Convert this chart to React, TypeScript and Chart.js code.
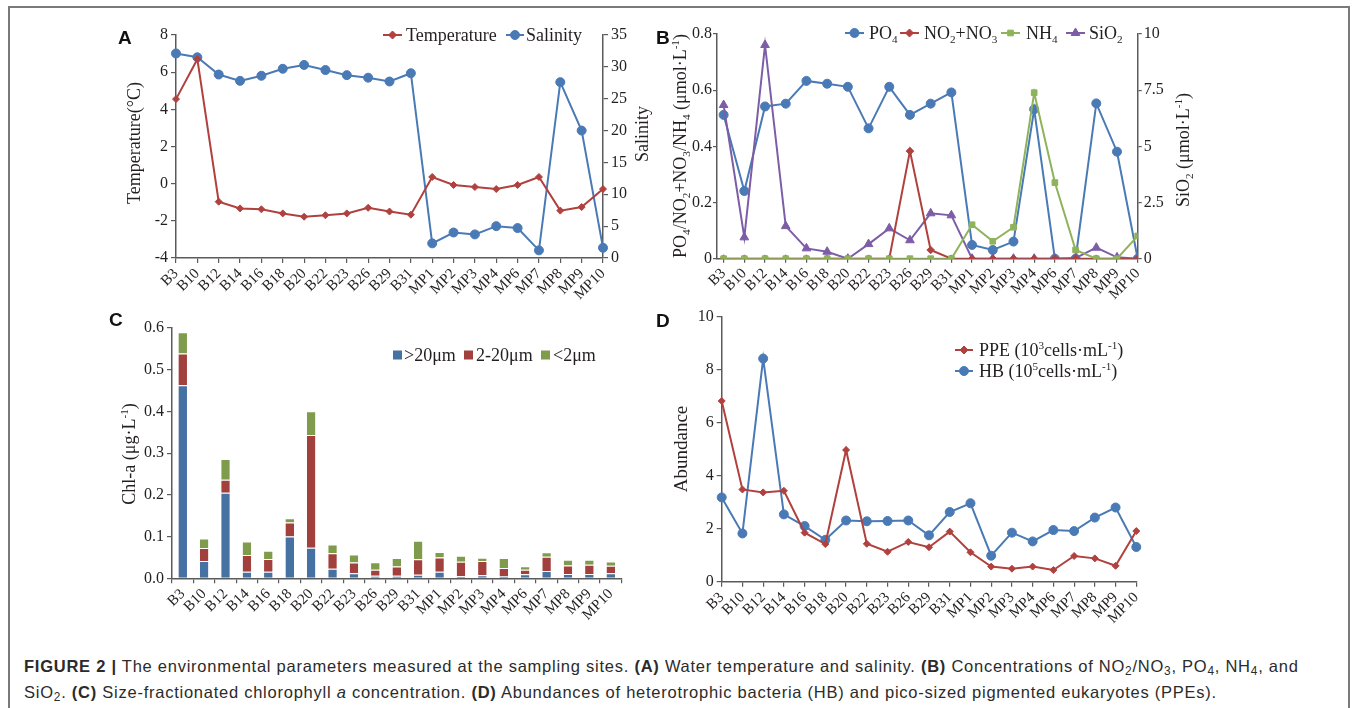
import React, { useEffect, useRef } from 'react';
import { Chart, registerables } from 'chart.js';
import { drawPoint } from 'chart.js/helpers';
Chart.register(...registerables);

// ---------------- data ----------------
const sites = ['B3', 'B10', 'B12', 'B14', 'B16', 'B18', 'B20', 'B22', 'B23', 'B26', 'B29', 'B31', 'MP1', 'MP2', 'MP3', 'MP4', 'MP6', 'MP7', 'MP8', 'MP9', 'MP10'];

const temperature = [4.55, 6.7, -0.97, -1.33, -1.38, -1.6, -1.78, -1.7, -1.6, -1.3, -1.5, -1.67, 0.36, -0.07, -0.18, -0.29, -0.07, 0.36, -1.45, -1.26, -0.29];
const salinity = [32.1, 31.5, 28.8, 27.8, 28.6, 29.7, 30.3, 29.5, 28.7, 28.3, 27.7, 29.0, 2.3, 4.0, 3.7, 5.0, 4.7, 1.2, 27.6, 20.0, 1.6];

const po4 = [0.512, 0.241, 0.542, 0.552, 0.633, 0.623, 0.612, 0.464, 0.612, 0.512, 0.552, 0.592, 0.049, 0.031, 0.061, 0.532, 0, 0, 0.553, 0.381, 0];
const no2no3 = [0, 0, 0, 0, 0, 0, 0, 0, 0, 0.383, 0.031, 0, 0, 0, 0, 0, 0, 0, 0, 0, 0];
const nh4 = [0, 0, 0, 0, 0, 0, 0, 0, 0, 0, 0, 0, 0.121, 0.062, 0.112, 0.591, 0.271, 0.031, 0, 0, 0.081];
const sio2 = [6.84, 0.95, 9.51, 1.45, 0.46, 0.31, 0, 0.65, 1.35, 0.82, 2.02, 1.93, 0, 0, 0, 0, 0, 0.03, 0.49, 0.06, 0];

const chlLarge = [0.463, 0.0415, 0.205, 0.016, 0.016, 0.1, 0.0735, 0.023, 0.012, 0.0064, 0.0064, 0.0088, 0.016, 0.0048, 0.0072, 0.0056, 0.0096, 0.0176, 0.0104, 0.0104, 0.012];
const chlMid = [0.076, 0.031, 0.031, 0.04, 0.03, 0.034, 0.27, 0.037, 0.026, 0.014, 0.022, 0.037, 0.034, 0.035, 0.034, 0.019, 0.011, 0.034, 0.02, 0.022, 0.018];
const chlSmall = [0.051, 0.023, 0.05, 0.032, 0.02, 0.01, 0.057, 0.021, 0.019, 0.018, 0.02, 0.044, 0.013, 0.014, 0.008, 0.024, 0.008, 0.011, 0.014, 0.012, 0.01];

const ppe = [6.82, 3.48, 3.37, 3.43, 1.85, 1.42, 4.97, 1.43, 1.13, 1.5, 1.3, 1.89, 1.11, 0.57, 0.49, 0.57, 0.44, 0.97, 0.88, 0.6, 1.91];
const hb = [3.18, 1.82, 8.42, 2.54, 2.1, 1.58, 2.31, 2.28, 2.29, 2.31, 1.75, 2.63, 2.96, 0.98, 1.85, 1.52, 1.95, 1.91, 2.42, 2.8, 1.31];

// ---------------- style ----------------
const SERIF = '"Liberation Serif", "Times New Roman", serif';
const SANS = '"Liberation Sans", Arial, Helvetica, sans-serif';
const TEXT = '#231f20';
const AXIS = '#5a5a5a';
const RED = '#b0413e';
const BLUE = '#4a7ab5';
const GREEN = '#8fb35a';
const PURPLE = '#7c5da6';
const BAR_BLUE = '#4671a3';
const BAR_RED = '#a2403e';
const BAR_GREEN = '#7f9c4c';

// ---------------- rich text helpers ----------------
function parseRich(s: string) {
  const parts: { t: string; k: string }[] = [];
  const re = /([_^])\{([^}]*)\}/g;
  let last = 0;
  let m: RegExpExecArray | null;
  while ((m = re.exec(s))) {
    if (m.index > last) parts.push({ t: s.slice(last, m.index), k: '' });
    parts.push({ t: m[2], k: m[1] });
    last = re.lastIndex;
  }
  if (last < s.length) parts.push({ t: s.slice(last), k: '' });
  return parts;
}

function drawRich(ctx: CanvasRenderingContext2D, s: string, x: number, y: number, size: number, align: 'left' | 'center') {
  const parts = parseRich(s);
  const fontFor = (k: string) => `${k ? size * 0.62 : size}px ${SERIF}`;
  let w = 0;
  for (const p of parts) {
    ctx.font = fontFor(p.k);
    w += ctx.measureText(p.t).width;
  }
  let cx = align === 'center' ? x - w / 2 : x;
  ctx.textAlign = 'left';
  ctx.textBaseline = 'alphabetic';
  for (const p of parts) {
    ctx.font = fontFor(p.k);
    const dy = p.k === '_' ? size * 0.2 : p.k === '^' ? -size * 0.4 : 0;
    ctx.fillText(p.t, cx, y + dy);
    cx += ctx.measureText(p.t).width;
  }
}

type Item =
  | { kind: 'title'; text: string; x: number; y: number; size: number }
  | { kind: 'line'; text: string; x: number; y: number; len: number; color: string; style: string; r: number; tx: number; size: number }
  | { kind: 'box'; text: string; x: number; y: number; s: number; color: string; tx: number; size: number };

function makeAnnot(items: Item[], ox: number, oy: number) {
  return {
    id: 'annot',
    afterDraw(chart: any) {
      const ctx: CanvasRenderingContext2D = chart.ctx;
      for (const it of items) {
        ctx.save();
        ctx.fillStyle = TEXT;
        if (it.kind === 'title') {
          ctx.translate(it.x - ox, it.y - oy);
          ctx.rotate(-Math.PI / 2);
          drawRich(ctx, it.text, 0, it.size * 0.33, it.size, 'center');
        } else if (it.kind === 'line') {
          const x = it.x - ox;
          const y = it.y - oy;
          ctx.strokeStyle = it.color;
          ctx.lineWidth = 2;
          ctx.beginPath();
          ctx.moveTo(x, y);
          ctx.lineTo(x + it.len, y);
          ctx.stroke();
          ctx.fillStyle = it.color;
          ctx.lineWidth = 1;
          drawPoint(ctx, { pointStyle: it.style as any, radius: it.r, borderWidth: 1, rotation: 0 } as any, x + it.len / 2, y);
          ctx.fillStyle = TEXT;
          drawRich(ctx, it.text, it.tx - ox, y + it.size * 0.33, it.size, 'left');
        } else if (it.kind === 'box') {
          const x = it.x - ox;
          const y = it.y - oy;
          ctx.fillStyle = it.color;
          ctx.fillRect(x, y - it.s / 2, it.s, it.s);
          ctx.fillStyle = TEXT;
          drawRich(ctx, it.text, it.tx - ox, y + it.size * 0.33, it.size, 'left');
        }
        ctx.restore();
      }
    },
  };
}

// ---------------- scale helpers ----------------
function axisStyle(tickSize: number, tickLength = 5, pad = 3) {
  return {
    grid: { drawOnChartArea: false, drawTicks: true, tickLength, color: AXIS, tickColor: AXIS, lineWidth: 1.2 },
    border: { display: true, color: AXIS, width: 1.5 },
    ticks: { font: { family: SERIF, size: tickSize }, color: TEXT, padding: pad },
  };
}

function yAxis(pos: 'left' | 'right', width: number, min: number, max: number, step: number, cb?: (v: any) => string, tickLength = 5, pad = 3) {
  const base = axisStyle(16, tickLength, pad);
  return {
    type: 'linear',
    position: pos,
    min,
    max,
    ...base,
    ticks: { ...base.ticks, stepSize: step, ...(cb ? { callback: cb } : {}) },
    afterFit(s: any) {
      s.width = width;
    },
  };
}

const X_FONT = 15;

function xCategory(height: number, offset: boolean) {
  const base = axisStyle(X_FONT, 5, 2);
  return {
    type: 'category',
    offset,
    ...base,
    grid: { ...base.grid, offset },
    ticks: { ...base.ticks, autoSkip: false, maxRotation: 45, minRotation: 45 },
    afterFit(s: any) {
      s.height = height;
    },
  };
}

function baseOptions(padding: any) {
  return {
    responsive: false,
    maintainAspectRatio: false,
    devicePixelRatio: 1,
    animation: false as const,
    layout: { padding },
    plugins: { legend: { display: false }, tooltip: { enabled: false } },
    events: [] as any[],
  };
}

function lineDs(label: string, data: any[], color: string, style: string, r: number, yAxisID: string) {
  return {
    label,
    data,
    yAxisID,
    borderColor: color,
    backgroundColor: color,
    borderWidth: 2,
    pointStyle: style,
    pointRadius: r,
    pointBorderWidth: 1,
    pointBackgroundColor: color,
    pointBorderColor: color,
    tension: 0,
  };
}

// ---------------- panel configs ----------------
const A_BOX = { left: 100, top: 15, width: 560, height: 300 };
function configA(): any {
  const ox = A_BOX.left, oy = A_BOX.top;
  const items: Item[] = [
    { kind: 'title', text: 'Temperature(°C)', x: 134, y: 143, size: 18 },
    { kind: 'title', text: 'Salinity', x: 642, y: 134, size: 18 },
    { kind: 'line', text: 'Temperature', x: 383, y: 35, len: 19, color: RED, style: 'rectRot', r: 4, tx: 406, size: 18 },
    { kind: 'line', text: 'Salinity', x: 506, y: 35, len: 18, color: BLUE, style: 'circle', r: 4.5, tx: 526, size: 18 },
  ];
  return {
    type: 'line',
    data: {
      labels: sites,
      datasets: [
        lineDs('Temperature', temperature, RED, 'rectRot', 3.5, 'y'),
        lineDs('Salinity', salinity, BLUE, 'circle', 4.5, 'y1'),
      ],
    },
    options: {
      ...baseOptions({ top: 20, left: 0, right: 0, bottom: 0 }),
      scales: {
        x: xCategory(57, false),
        y: yAxis('left', 76, -4, 8, 2),
        y1: yAxis('right', 57, 0, 35, 5),
      },
    },
    plugins: [makeAnnot(items, ox, oy)],
  };
}

const B_BOX = { left: 640, top: 15, width: 575, height: 300 };
function configB(): any {
  const ox = B_BOX.left, oy = B_BOX.top;
  const xy = (arr: number[]) => arr.map((v, i) => ({ x: i, y: v }));
  const items: Item[] = [
    { kind: 'title', text: 'PO_{4}/NO_{2}+NO_{3}/NH_{4} (μmol·L^{-1})', x: 680, y: 146, size: 18 },
    { kind: 'title', text: 'SiO_{2} (μmol·L^{-1})', x: 1183, y: 150, size: 18 },
    { kind: 'line', text: 'PO_{4}', x: 845, y: 33, len: 19, color: BLUE, style: 'circle', r: 4.5, tx: 869, size: 18 },
    { kind: 'line', text: 'NO_{2}+NO_{3}', x: 900, y: 33, len: 19, color: RED, style: 'rectRot', r: 4, tx: 924, size: 18 },
    { kind: 'line', text: 'NH_{4}', x: 1001, y: 33, len: 19, color: GREEN, style: 'rect', r: 4, tx: 1026, size: 18 },
    { kind: 'line', text: 'SiO_{2}', x: 1066, y: 33, len: 19, color: PURPLE, style: 'triangle', r: 5, tx: 1089, size: 18 },
  ];
  const xBase = axisStyle(X_FONT, 4, 2);
  return {
    type: 'line',
    data: {
      datasets: [
        lineDs('NH4', xy(nh4), GREEN, 'rect', 4, 'y'),
        lineDs('NO2+NO3', xy(no2no3), RED, 'rectRot', 3.8, 'y'),
        lineDs('SiO2', xy(sio2), PURPLE, 'triangle', 5, 'y1'),
        lineDs('PO4', xy(po4), BLUE, 'circle', 4.5, 'y'),
      ],
    },
    options: {
      ...baseOptions({ top: 19, left: 0, right: 0, bottom: 0 }),
      scales: {
        x: {
          type: 'linear',
          min: -0.32,
          max: 20,
          ...xBase,
          ticks: {
            ...xBase.ticks,
            stepSize: 1,
            includeBounds: false,
            autoSkip: false,
            maxTicksLimit: 40,
            maxRotation: 45,
            minRotation: 45,
            callback: (v: any) => (Number.isInteger(v) && sites[v] ? sites[v] : ''),
          },
          afterFit(s: any) {
            s.height = 56.3;
          },
        },
        y: yAxis('left', 77, 0, 0.8, 0.2, undefined, 4, 1),
        y1: yAxis('right', 77.3, 0, 10, 2.5, undefined, 4, 2),
      },
    },
    plugins: [makeAnnot(items, ox, oy)],
  };
}

const C_BOX = { left: 100, top: 310, width: 540, height: 330 };
function configC(): any {
  const ox = C_BOX.left, oy = C_BOX.top;
  const items: Item[] = [
    { kind: 'title', text: 'Chl-a (μg·L^{-1})', x: 129, y: 454, size: 18 },
    { kind: 'box', text: '>20μm', x: 393, y: 355, s: 9, color: BAR_BLUE, tx: 404, size: 18 },
    { kind: 'box', text: '2-20μm', x: 464, y: 355, s: 9, color: BAR_RED, tx: 476, size: 18 },
    { kind: 'box', text: '<2μm', x: 541, y: 355, s: 9, color: BAR_GREEN, tx: 553, size: 18 },
  ];
  const bar = (label: string, data: number[], color: string) => ({
    label,
    data,
    backgroundColor: color,
    borderColor: '#ffffff',
    borderWidth: { top: 1, left: 0, right: 0, bottom: 0 },
    borderSkipped: false,
    barPercentage: 0.4,
    categoryPercentage: 1,
  });
  return {
    type: 'bar',
    data: {
      labels: sites,
      datasets: [bar('>20μm', chlLarge, BAR_BLUE), bar('2-20μm', chlMid, BAR_RED), bar('<2μm', chlSmall, BAR_GREEN)],
    },
    options: {
      ...baseOptions({ top: 18, left: 0, right: 18.5, bottom: 0 }),
      scales: {
        x: { ...xCategory(61.7, true), stacked: true },
        y: { ...yAxis('left', 72, 0, 0.6, 0.1, (v: any) => Number(v).toFixed(1)), stacked: true },
      },
    },
    plugins: [makeAnnot(items, ox, oy)],
  };
}

const D_BOX = { left: 640, top: 300, width: 575, height: 340 };
function configD(): any {
  const ox = D_BOX.left, oy = D_BOX.top;
  const items: Item[] = [
    { kind: 'title', text: 'Abundance', x: 681, y: 449, size: 19 },
    { kind: 'line', text: 'PPE (10^{3}cells·mL^{-1})', x: 955, y: 350, len: 18, color: RED, style: 'rectRot', r: 4, tx: 979, size: 18 },
    { kind: 'line', text: 'HB (10^{5}cells·mL^{-1})', x: 955, y: 371, len: 18, color: BLUE, style: 'circle', r: 4.5, tx: 979, size: 18 },
  ];
  return {
    type: 'line',
    data: {
      labels: sites,
      datasets: [
        lineDs('PPE', ppe, RED, 'rectRot', 3.5, 'y'),
        lineDs('HB', hb, BLUE, 'circle', 4.5, 'y'),
      ],
    },
    options: {
      ...baseOptions({ top: 16.7, left: 0, right: 78.7, bottom: 0 }),
      scales: {
        x: xCategory(58.3, false),
        y: yAxis('left', 81.7, 0, 10, 2),
      },
    },
    plugins: [makeAnnot(items, ox, oy)],
  };
}

// ---------------- components ----------------
function Panel({ box, make }: { box: { left: number; top: number; width: number; height: number }; make: () => any }) {
  const ref = useRef<HTMLCanvasElement>(null);
  useEffect(() => {
    const chart = new Chart(ref.current as HTMLCanvasElement, make());
    return () => chart.destroy();
  }, []);
  return (
    <canvas
      ref={ref}
      width={box.width}
      height={box.height}
      style={{ position: 'absolute', left: box.left, top: box.top, width: box.width, height: box.height }}
    />
  );
}

const letterStyle = (left: number, top: number): React.CSSProperties => ({
  position: 'absolute',
  left,
  top,
  font: `bold 19px ${SANS}`,
  lineHeight: '19px',
  color: '#111',
  margin: 0,
});

const subStyle: React.CSSProperties = { fontSize: '0.72em', verticalAlign: '-0.25em', lineHeight: 0 };

export default function App() {
  return (
    <div style={{ position: 'absolute', left: 0, top: 0, width: 1357, height: 708, overflow: 'hidden', background: '#fff' }}>
      <div
        style={{
          position: 'absolute',
          left: 8,
          top: 6,
          width: 1338,
          height: 720,
          border: '2px solid #7a7a7a',
          boxSizing: 'content-box',
        }}
      />
      <Panel box={A_BOX} make={configA} />
      <Panel box={B_BOX} make={configB} />
      <Panel box={C_BOX} make={configC} />
      <Panel box={D_BOX} make={configD} />
      <div style={letterStyle(118, 28)}>A</div>
      <div style={letterStyle(656, 28)}>B</div>
      <div style={letterStyle(109, 310)}>C</div>
      <div style={letterStyle(656, 311)}>D</div>
      <div
        style={{
          position: 'absolute',
          left: 24,
          top: 653,
          width: 1320,
          font: `16.5px ${SANS}`,
          letterSpacing: '0.75px',
          lineHeight: '26px',
          color: '#2b2b2b',
          whiteSpace: 'nowrap',
        }}
      >
        <b>FIGURE 2 |</b> The environmental parameters measured at the sampling sites. <b>(A)</b> Water temperature and salinity.{' '}
        <b>(B)</b> Concentrations of NO<sub style={subStyle}>2</sub>/NO<sub style={subStyle}>3</sub>, PO<sub style={subStyle}>4</sub>, NH
        <sub style={subStyle}>4</sub>, and
        <br />
        SiO<sub style={subStyle}>2</sub>. <b>(C)</b> Size-fractionated chlorophyll <i>a</i> concentration. <b>(D)</b> Abundances of heterotrophic
        bacteria (HB) and pico-sized pigmented eukaryotes (PPEs).
      </div>
    </div>
  );
}
